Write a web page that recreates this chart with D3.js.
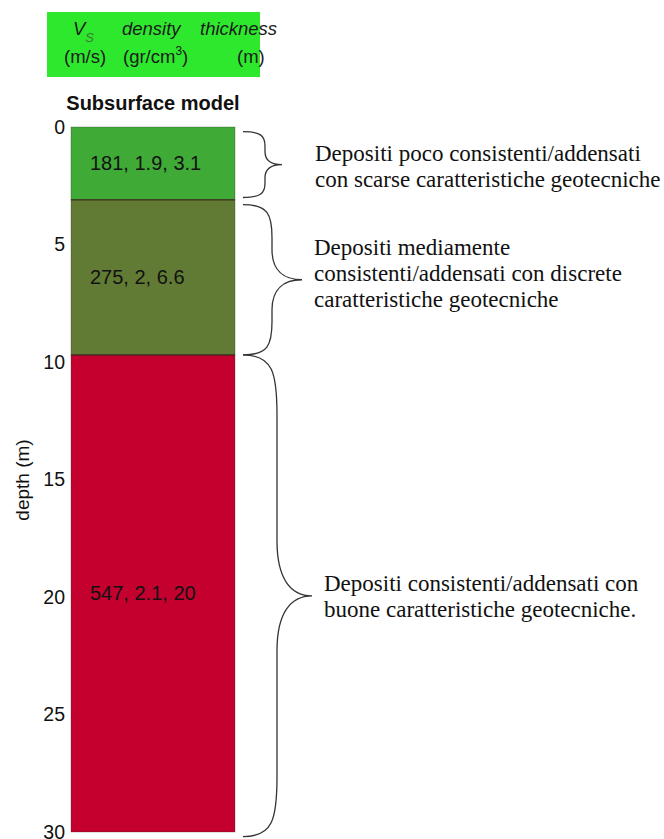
<!DOCTYPE html>
<html>
<head>
<meta charset="utf-8">
<script src="https://cdn.jsdelivr.net/npm/d3@7"></script>
<style>
  body { margin: 0; background: #fff; }
  svg { display: block; }
</style>
</head>
<body>
<div id="chart"></div>
<script>
// layer properties (Vs m/s, density gr/cm3, thickness m)
const layerVs = [181, 275, 547];
const layerDensity = [1.9, 2, 2.1];
const layerThickness = [3.1, 6.6, 20];
const depthTicks = [0, 5, 10, 15, 20, 25, 30];
const depthMax = 30;

// annotations: brace extent in depth (m) and text lines
const braceTop = [0.2, 3.3, 9.7];
const braceBottom = [3.0, 9.7, 30.2];
const noteLines = [
  ["Depositi poco consistenti/addensati", "con scarse caratteristiche geotecniche"],
  ["Depositi mediamente", "consistenti/addensati con discrete", "caratteristiche geotecniche"],
  ["Depositi consistenti/addensati con", "buone caratteristiche geotecniche."]
];

const layerColors = ["#40aa37", "#627b34", "#c4002f"];

(function() {
  const width = 664, height = 839;
  const colLeft = 71, colRight = 235;

  var svg = d3.select("#chart").append("svg")
    .attr("width", width)
    .attr("height", height);

  var y = d3.scaleLinear().domain([0, depthMax]).range([127, 832]);

  // build layer tops / bottoms from thicknesses, last one is the half-space
  var cum = 0;
  var layers = layerThickness.map(function(t, i) {
    var l = { top: cum, bottom: (i == layerThickness.length - 1) ? depthMax : cum + t, i: i };
    cum += t;
    return l;
  });

  // header box
  svg.append("rect")
    .attr("x", 47).attr("y", 12)
    .attr("width", 213).attr("height", 65)
    .attr("fill", "#2ee82e");

  var hdr = svg.append("g")
    .style("font-family", "'Liberation Sans', Arial, sans-serif")
    .style("font-size", "18.5px")
    .attr("fill", "#1a1a1a");

  var vs = hdr.append("text").attr("x", 73).attr("y", 35).style("font-style", "italic");
  vs.append("tspan").text("V");
  vs.append("tspan").attr("dy", 7).style("font-size", "13px").attr("fill", "#3a7a3a").text("S");
  hdr.append("text").attr("x", 122).attr("y", 35).style("font-style", "italic").text("density");
  hdr.append("text").attr("x", 200).attr("y", 35).style("font-style", "italic").text("thickness");

  hdr.append("text").attr("x", 64).attr("y", 63).text("(m/s)");
  var dens = hdr.append("text").attr("x", 123).attr("y", 63);
  dens.append("tspan").text("(gr/cm");
  dens.append("tspan").attr("dy", -8).style("font-size", "12px").text("3");
  dens.append("tspan").attr("dy", 8).text(")");
  hdr.append("text").attr("x", 237).attr("y", 63).text("(m)");

  // title
  svg.append("text")
    .attr("x", (colLeft + colRight) / 2)
    .attr("y", 110)
    .attr("text-anchor", "middle")
    .style("font-family", "'Liberation Sans', Arial, sans-serif")
    .style("font-size", "20px")
    .style("font-weight", "bold")
    .attr("fill", "#111")
    .text("Subsurface model");

  // layers
  svg.append("g").selectAll("rect")
    .data(layers)
    .enter()
    .append("rect")
    .attr("x", colLeft)
    .attr("width", colRight - colLeft)
    .attr("y", function(d) { return y(d.top); })
    .attr("height", function(d) { return y(d.bottom) - y(d.top); })
    .attr("fill", function(d) { return layerColors[d.i]; })
    .attr("stroke", "rgba(40,40,40,0.3)")
    .attr("stroke-width", 1);

  // interfaces
  svg.append("g").selectAll("line")
    .data(layers.slice(1))
    .enter()
    .append("line")
    .attr("x1", colLeft).attr("x2", colRight)
    .attr("y1", function(d) { return y(d.top); })
    .attr("y2", function(d) { return y(d.top); })
    .attr("stroke", "#3a2a1a")
    .attr("stroke-opacity", 0.7)
    .attr("stroke-width", 1.5);

  // layer labels, centred in the drawn layer
  svg.append("g").selectAll("text")
    .data(layers)
    .enter()
    .append("text")
    .attr("x", 90)
    .attr("y", function(d) { return y((d.top + d.bottom) / 2); })
    .attr("dy", "0.35em")
    .style("font-family", "'Liberation Sans', Arial, sans-serif")
    .style("font-size", "20px")
    .attr("fill", "#111")
    .text(function(d) { return `${layerVs[d.i]}, ${layerDensity[d.i]}, ${layerThickness[d.i]}`; });

  // depth axis
  var axis = svg.append("g")
    .attr("transform", `translate(${colLeft},0)`)
    .call(d3.axisLeft(y).tickValues(depthTicks).tickSize(0).tickPadding(6));
  axis.select(".domain").remove();
  axis.selectAll("text")
    .style("font-family", "'Liberation Sans', Arial, sans-serif")
    .style("font-size", "19.5px")
    .attr("fill", "#111");

  svg.append("text")
    .attr("transform", "rotate(-90)")
    .attr("x", -480)
    .attr("y", 29)
    .attr("text-anchor", "middle")
    .style("font-family", "'Liberation Sans', Arial, sans-serif")
    .style("font-size", "19px")
    .attr("fill", "#111")
    .text("depth (m)");

  // braces
  function bracePath(x0, y0, y1, xb, xt) {
    var h = y1 - y0;
    var ym = (y0 + y1) / 2;
    var r = Math.min(60, h * 0.22);
    var rm = Math.min(55, h * 0.2);
    return `M${x0},${y0}` +
      ` C${xb - 4},${y0} ${xb},${y0 + r * 0.3} ${xb},${y0 + r}` +
      ` L${xb},${ym - rm}` +
      ` C${xb},${ym - rm * 0.3} ${xb + (xt - xb) * 0.4},${ym} ${xt},${ym}` +
      ` C${xb + (xt - xb) * 0.4},${ym} ${xb},${ym + rm * 0.3} ${xb},${ym + rm}` +
      ` L${xb},${y1 - r}` +
      ` C${xb},${y1 - r * 0.3} ${xb - 4},${y1} ${x0},${y1}`;
  }

  var braceBody = [265, 272, 277];
  var braceTip = [282, 302, 312];
  var noteX = [315, 314, 324];
  var noteY = [161, 255, 591];

  braceTop.forEach(function(t, i) {
    svg.append("path")
      .attr("d", bracePath(243, y(t), y(braceBottom[i]), braceBody[i], braceTip[i]))
      .attr("fill", "none")
      .attr("stroke", "#333")
      .attr("stroke-width", 1.3);

    var txt = svg.append("text")
      .attr("x", noteX[i])
      .attr("y", noteY[i])
      .style("font-family", "'Liberation Serif', 'Times New Roman', serif")
      .style("font-size", "23px")
      .attr("fill", "#111");
    noteLines[i].forEach(function(line, j) {
      txt.append("tspan")
        .attr("x", noteX[i])
        .attr("dy", j == 0 ? 0 : 26)
        .text(line);
    });
  });
})();
</script>
</body>
</html>
